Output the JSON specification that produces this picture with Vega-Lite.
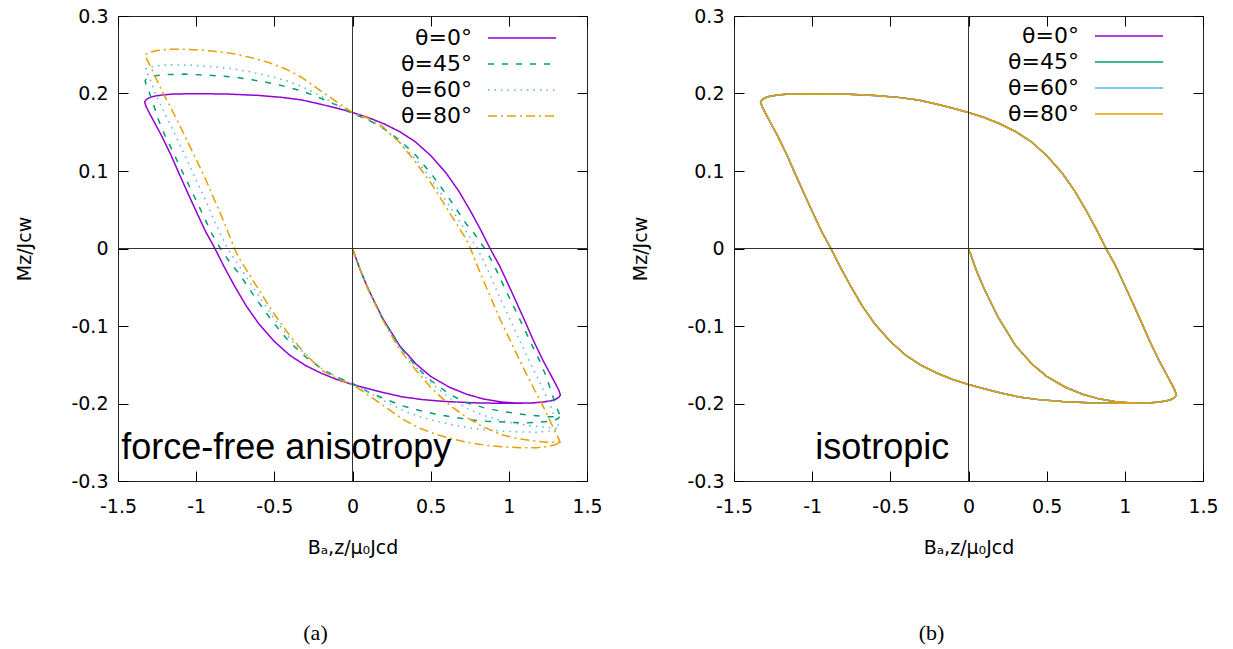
{
"$schema":"https://vega.github.io/schema/vega-lite/v6.json",
"background":"white",
"padding":{"left":15,"top":6,"right":5,"bottom":5},
"datasets":{"aniso":[
{"t":"θ=0°","i":0,"x":0,"y":0},{"t":"θ=0°","i":1,"x":0.05,"y":-0.028},{"t":"θ=0°","i":2,"x":0.1,"y":-0.052},{"t":"θ=0°","i":3,"x":0.19,"y":-0.089},{"t":"θ=0°","i":4,"x":0.3,"y":-0.125},{"t":"θ=0°","i":5,"x":0.406,"y":-0.149},{"t":"θ=0°","i":6,"x":0.5,"y":-0.165},{"t":"θ=0°","i":7,"x":0.62,"y":-0.179},{"t":"θ=0°","i":8,"x":0.73,"y":-0.188},{"t":"θ=0°","i":9,"x":0.834,"y":-0.194},{"t":"θ=0°","i":10,"x":0.95,"y":-0.198},{"t":"θ=0°","i":11,"x":1.05,"y":-0.1995},{"t":"θ=0°","i":12,"x":1.15,"y":-0.1993},{"t":"θ=0°","i":13,"x":1.22,"y":-0.198},{"t":"θ=0°","i":14,"x":1.27,"y":-0.1965},{"t":"θ=0°","i":15,"x":1.3,"y":-0.1945},{"t":"θ=0°","i":16,"x":1.32,"y":-0.192},{"t":"θ=0°","i":17,"x":1.33,"y":-0.189},
{"t":"θ=0°","i":18,"x":1.32,"y":-0.183},{"t":"θ=0°","i":19,"x":1.3,"y":-0.175},{"t":"θ=0°","i":20,"x":1.26,"y":-0.16},{"t":"θ=0°","i":21,"x":1.22,"y":-0.145},{"t":"θ=0°","i":22,"x":1.16,"y":-0.12},{"t":"θ=0°","i":23,"x":1.11,"y":-0.097},{"t":"θ=0°","i":24,"x":1.05,"y":-0.07},{"t":"θ=0°","i":25,"x":1.0,"y":-0.048},{"t":"θ=0°","i":26,"x":0.94,"y":-0.022},{"t":"θ=0°","i":27,"x":0.88,"y":0},{"t":"θ=0°","i":28,"x":0.82,"y":0.024},{"t":"θ=0°","i":29,"x":0.75,"y":0.05},{"t":"θ=0°","i":30,"x":0.68,"y":0.074},{"t":"θ=0°","i":31,"x":0.6,"y":0.097},{"t":"θ=0°","i":32,"x":0.5,"y":0.12},{"t":"θ=0°","i":33,"x":0.4,"y":0.138},{"t":"θ=0°","i":34,"x":0.3,"y":0.151},{"t":"θ=0°","i":35,"x":0.2,"y":0.161},{"t":"θ=0°","i":36,"x":0.1,"y":0.169},{"t":"θ=0°","i":37,"x":0,"y":0.1755},{"t":"θ=0°","i":38,"x":-0.1,"y":0.181},{"t":"θ=0°","i":39,"x":-0.2,"y":0.186},{"t":"θ=0°","i":40,"x":-0.32,"y":0.1915},{"t":"θ=0°","i":41,"x":-0.45,"y":0.195},{"t":"θ=0°","i":42,"x":-0.6,"y":0.1975},{"t":"θ=0°","i":43,"x":-0.8,"y":0.1993},{"t":"θ=0°","i":44,"x":-1.0,"y":0.1998},{"t":"θ=0°","i":45,"x":-1.15,"y":0.1993},{"t":"θ=0°","i":46,"x":-1.22,"y":0.198},{"t":"θ=0°","i":47,"x":-1.27,"y":0.1965},{"t":"θ=0°","i":48,"x":-1.3,"y":0.1945},{"t":"θ=0°","i":49,"x":-1.32,"y":0.192},{"t":"θ=0°","i":50,"x":-1.33,"y":0.189},
{"t":"θ=0°","i":51,"x":-1.32,"y":0.183},{"t":"θ=0°","i":52,"x":-1.3,"y":0.175},{"t":"θ=0°","i":53,"x":-1.26,"y":0.16},{"t":"θ=0°","i":54,"x":-1.22,"y":0.145},{"t":"θ=0°","i":55,"x":-1.16,"y":0.12},{"t":"θ=0°","i":56,"x":-1.11,"y":0.097},{"t":"θ=0°","i":57,"x":-1.05,"y":0.07},{"t":"θ=0°","i":58,"x":-1.0,"y":0.048},{"t":"θ=0°","i":59,"x":-0.94,"y":0.022},{"t":"θ=0°","i":60,"x":-0.88,"y":0},{"t":"θ=0°","i":61,"x":-0.82,"y":-0.024},{"t":"θ=0°","i":62,"x":-0.75,"y":-0.05},{"t":"θ=0°","i":63,"x":-0.68,"y":-0.074},{"t":"θ=0°","i":64,"x":-0.6,"y":-0.097},{"t":"θ=0°","i":65,"x":-0.5,"y":-0.12},{"t":"θ=0°","i":66,"x":-0.4,"y":-0.138},{"t":"θ=0°","i":67,"x":-0.3,"y":-0.151},{"t":"θ=0°","i":68,"x":-0.2,"y":-0.161},{"t":"θ=0°","i":69,"x":-0.1,"y":-0.169},{"t":"θ=0°","i":70,"x":0,"y":-0.1755},{"t":"θ=0°","i":71,"x":0.1,"y":-0.181},{"t":"θ=0°","i":72,"x":0.2,"y":-0.186},{"t":"θ=0°","i":73,"x":0.32,"y":-0.1915},{"t":"θ=0°","i":74,"x":0.45,"y":-0.195},{"t":"θ=0°","i":75,"x":0.6,"y":-0.1975},{"t":"θ=0°","i":76,"x":0.8,"y":-0.1993},{"t":"θ=0°","i":77,"x":1.0,"y":-0.1998},{"t":"θ=0°","i":78,"x":1.15,"y":-0.1993},{"t":"θ=0°","i":79,"x":1.22,"y":-0.198},{"t":"θ=0°","i":80,"x":1.27,"y":-0.1965},{"t":"θ=0°","i":81,"x":1.3,"y":-0.1945},{"t":"θ=0°","i":82,"x":1.32,"y":-0.192},{"t":"θ=0°","i":83,"x":1.33,"y":-0.189},
{"t":"θ=45°","i":0,"x":0,"y":0},{"t":"θ=45°","i":1,"x":0.05,"y":-0.028},{"t":"θ=45°","i":2,"x":0.1,"y":-0.052},{"t":"θ=45°","i":3,"x":0.19,"y":-0.09},{"t":"θ=45°","i":4,"x":0.3,"y":-0.126},{"t":"θ=45°","i":5,"x":0.406,"y":-0.152},{"t":"θ=45°","i":6,"x":0.5,"y":-0.17},{"t":"θ=45°","i":7,"x":0.62,"y":-0.188},{"t":"θ=45°","i":8,"x":0.73,"y":-0.199},{"t":"θ=45°","i":9,"x":0.834,"y":-0.205},{"t":"θ=45°","i":10,"x":0.95,"y":-0.21},{"t":"θ=45°","i":11,"x":1.05,"y":-0.213},{"t":"θ=45°","i":12,"x":1.15,"y":-0.2155},{"t":"θ=45°","i":13,"x":1.25,"y":-0.217},{"t":"θ=45°","i":14,"x":1.3,"y":-0.217},{"t":"θ=45°","i":15,"x":1.327,"y":-0.216},
{"t":"θ=45°","i":16,"x":1.32,"y":-0.212},{"t":"θ=45°","i":17,"x":1.306,"y":-0.205},{"t":"θ=45°","i":18,"x":1.28,"y":-0.19},{"t":"θ=45°","i":19,"x":1.242,"y":-0.1665},{"t":"θ=45°","i":20,"x":1.2,"y":-0.146},{"t":"θ=45°","i":21,"x":1.156,"y":-0.128},{"t":"θ=45°","i":22,"x":1.1,"y":-0.104},{"t":"θ=45°","i":23,"x":1.049,"y":-0.0826},{"t":"θ=45°","i":24,"x":1.0,"y":-0.062},{"t":"θ=45°","i":25,"x":0.941,"y":-0.037},{"t":"θ=45°","i":26,"x":0.9,"y":-0.019},{"t":"θ=45°","i":27,"x":0.845,"y":0},{"t":"θ=45°","i":28,"x":0.78,"y":0.019},{"t":"θ=45°","i":29,"x":0.727,"y":0.032},{"t":"θ=45°","i":30,"x":0.62,"y":0.064},{"t":"θ=45°","i":31,"x":0.513,"y":0.094},{"t":"θ=45°","i":32,"x":0.406,"y":0.12},{"t":"θ=45°","i":33,"x":0.3,"y":0.14},{"t":"θ=45°","i":34,"x":0.19,"y":0.156},{"t":"θ=45°","i":35,"x":0.1,"y":0.166},{"t":"θ=45°","i":36,"x":0,"y":0.174},{"t":"θ=45°","i":37,"x":-0.1,"y":0.185},{"t":"θ=45°","i":38,"x":-0.215,"y":0.1948},{"t":"θ=45°","i":39,"x":-0.32,"y":0.203},{"t":"θ=45°","i":40,"x":-0.429,"y":0.209},{"t":"θ=45°","i":41,"x":-0.537,"y":0.214},{"t":"θ=45°","i":42,"x":-0.644,"y":0.2177},{"t":"θ=45°","i":43,"x":-0.75,"y":0.221},{"t":"θ=45°","i":44,"x":-0.858,"y":0.2228},{"t":"θ=45°","i":45,"x":-0.965,"y":0.224},{"t":"θ=45°","i":46,"x":-1.072,"y":0.225},{"t":"θ=45°","i":47,"x":-1.18,"y":0.2245},{"t":"θ=45°","i":48,"x":-1.265,"y":0.2228},{"t":"θ=45°","i":49,"x":-1.3,"y":0.221},{"t":"θ=45°","i":50,"x":-1.318,"y":0.219},{"t":"θ=45°","i":51,"x":-1.327,"y":0.216},
{"t":"θ=45°","i":52,"x":-1.32,"y":0.212},{"t":"θ=45°","i":53,"x":-1.306,"y":0.205},{"t":"θ=45°","i":54,"x":-1.28,"y":0.19},{"t":"θ=45°","i":55,"x":-1.242,"y":0.1665},{"t":"θ=45°","i":56,"x":-1.2,"y":0.146},{"t":"θ=45°","i":57,"x":-1.156,"y":0.128},{"t":"θ=45°","i":58,"x":-1.1,"y":0.104},{"t":"θ=45°","i":59,"x":-1.049,"y":0.0826},{"t":"θ=45°","i":60,"x":-1.0,"y":0.062},{"t":"θ=45°","i":61,"x":-0.941,"y":0.037},{"t":"θ=45°","i":62,"x":-0.9,"y":0.019},{"t":"θ=45°","i":63,"x":-0.845,"y":0},{"t":"θ=45°","i":64,"x":-0.78,"y":-0.019},{"t":"θ=45°","i":65,"x":-0.727,"y":-0.032},{"t":"θ=45°","i":66,"x":-0.62,"y":-0.064},{"t":"θ=45°","i":67,"x":-0.513,"y":-0.094},{"t":"θ=45°","i":68,"x":-0.406,"y":-0.12},{"t":"θ=45°","i":69,"x":-0.3,"y":-0.14},{"t":"θ=45°","i":70,"x":-0.19,"y":-0.156},{"t":"θ=45°","i":71,"x":-0.1,"y":-0.166},{"t":"θ=45°","i":72,"x":0,"y":-0.174},{"t":"θ=45°","i":73,"x":0.1,"y":-0.185},{"t":"θ=45°","i":74,"x":0.215,"y":-0.1948},{"t":"θ=45°","i":75,"x":0.32,"y":-0.203},{"t":"θ=45°","i":76,"x":0.429,"y":-0.209},{"t":"θ=45°","i":77,"x":0.537,"y":-0.214},{"t":"θ=45°","i":78,"x":0.644,"y":-0.2177},{"t":"θ=45°","i":79,"x":0.75,"y":-0.221},{"t":"θ=45°","i":80,"x":0.858,"y":-0.2228},{"t":"θ=45°","i":81,"x":0.965,"y":-0.224},{"t":"θ=45°","i":82,"x":1.072,"y":-0.225},{"t":"θ=45°","i":83,"x":1.18,"y":-0.2245},{"t":"θ=45°","i":84,"x":1.265,"y":-0.2228},{"t":"θ=45°","i":85,"x":1.3,"y":-0.221},{"t":"θ=45°","i":86,"x":1.318,"y":-0.219},{"t":"θ=45°","i":87,"x":1.327,"y":-0.216},
{"t":"θ=60°","i":0,"x":0,"y":0},{"t":"θ=60°","i":1,"x":0.05,"y":-0.028},{"t":"θ=60°","i":2,"x":0.1,"y":-0.052},{"t":"θ=60°","i":3,"x":0.19,"y":-0.09},{"t":"θ=60°","i":4,"x":0.3,"y":-0.127},{"t":"θ=60°","i":5,"x":0.406,"y":-0.153},{"t":"θ=60°","i":6,"x":0.5,"y":-0.173},{"t":"θ=60°","i":7,"x":0.62,"y":-0.193},{"t":"θ=60°","i":8,"x":0.73,"y":-0.206},{"t":"θ=60°","i":9,"x":0.834,"y":-0.215},{"t":"θ=60°","i":10,"x":0.95,"y":-0.222},{"t":"θ=60°","i":11,"x":1.05,"y":-0.226},{"t":"θ=60°","i":12,"x":1.15,"y":-0.229},{"t":"θ=60°","i":13,"x":1.25,"y":-0.231},{"t":"θ=60°","i":14,"x":1.322,"y":-0.232},
{"t":"θ=60°","i":15,"x":1.316,"y":-0.228},{"t":"θ=60°","i":16,"x":1.29,"y":-0.216},{"t":"θ=60°","i":17,"x":1.263,"y":-0.2008},{"t":"θ=60°","i":18,"x":1.21,"y":-0.178},{"t":"θ=60°","i":19,"x":1.156,"y":-0.1556},{"t":"θ=60°","i":20,"x":1.1,"y":-0.132},{"t":"θ=60°","i":21,"x":1.049,"y":-0.11},{"t":"θ=60°","i":22,"x":1.0,"y":-0.088},{"t":"θ=60°","i":23,"x":0.941,"y":-0.063},{"t":"θ=60°","i":24,"x":0.88,"y":-0.034},{"t":"θ=60°","i":25,"x":0.8,"y":0},{"t":"θ=60°","i":26,"x":0.727,"y":0.022},{"t":"θ=60°","i":27,"x":0.62,"y":0.055},{"t":"θ=60°","i":28,"x":0.513,"y":0.087},{"t":"θ=60°","i":29,"x":0.406,"y":0.115},{"t":"θ=60°","i":30,"x":0.3,"y":0.137},{"t":"θ=60°","i":31,"x":0.19,"y":0.156},{"t":"θ=60°","i":32,"x":0.1,"y":0.166},{"t":"θ=60°","i":33,"x":0,"y":0.175},{"t":"θ=60°","i":34,"x":-0.108,"y":0.186},{"t":"θ=60°","i":35,"x":-0.215,"y":0.198},{"t":"θ=60°","i":36,"x":-0.323,"y":0.209},{"t":"θ=60°","i":37,"x":-0.43,"y":0.217},{"t":"θ=60°","i":38,"x":-0.537,"y":0.2228},{"t":"θ=60°","i":39,"x":-0.644,"y":0.2275},{"t":"θ=60°","i":40,"x":-0.75,"y":0.2315},{"t":"θ=60°","i":41,"x":-0.858,"y":0.234},{"t":"θ=60°","i":42,"x":-0.965,"y":0.2357},{"t":"θ=60°","i":43,"x":-1.07,"y":0.2368},{"t":"θ=60°","i":44,"x":-1.179,"y":0.237},{"t":"θ=60°","i":45,"x":-1.26,"y":0.2355},{"t":"θ=60°","i":46,"x":-1.3,"y":0.234},{"t":"θ=60°","i":47,"x":-1.322,"y":0.232},
{"t":"θ=60°","i":48,"x":-1.316,"y":0.228},{"t":"θ=60°","i":49,"x":-1.29,"y":0.216},{"t":"θ=60°","i":50,"x":-1.263,"y":0.2008},{"t":"θ=60°","i":51,"x":-1.21,"y":0.178},{"t":"θ=60°","i":52,"x":-1.156,"y":0.1556},{"t":"θ=60°","i":53,"x":-1.1,"y":0.132},{"t":"θ=60°","i":54,"x":-1.049,"y":0.11},{"t":"θ=60°","i":55,"x":-1.0,"y":0.088},{"t":"θ=60°","i":56,"x":-0.941,"y":0.063},{"t":"θ=60°","i":57,"x":-0.88,"y":0.034},{"t":"θ=60°","i":58,"x":-0.8,"y":0},{"t":"θ=60°","i":59,"x":-0.727,"y":-0.022},{"t":"θ=60°","i":60,"x":-0.62,"y":-0.055},{"t":"θ=60°","i":61,"x":-0.513,"y":-0.087},{"t":"θ=60°","i":62,"x":-0.406,"y":-0.115},{"t":"θ=60°","i":63,"x":-0.3,"y":-0.137},{"t":"θ=60°","i":64,"x":-0.19,"y":-0.156},{"t":"θ=60°","i":65,"x":-0.1,"y":-0.166},{"t":"θ=60°","i":66,"x":0,"y":-0.175},{"t":"θ=60°","i":67,"x":0.108,"y":-0.186},{"t":"θ=60°","i":68,"x":0.215,"y":-0.198},{"t":"θ=60°","i":69,"x":0.323,"y":-0.209},{"t":"θ=60°","i":70,"x":0.43,"y":-0.217},{"t":"θ=60°","i":71,"x":0.537,"y":-0.2228},{"t":"θ=60°","i":72,"x":0.644,"y":-0.2275},{"t":"θ=60°","i":73,"x":0.75,"y":-0.2315},{"t":"θ=60°","i":74,"x":0.858,"y":-0.234},{"t":"θ=60°","i":75,"x":0.965,"y":-0.2357},{"t":"θ=60°","i":76,"x":1.07,"y":-0.2368},{"t":"θ=60°","i":77,"x":1.179,"y":-0.237},{"t":"θ=60°","i":78,"x":1.26,"y":-0.2355},{"t":"θ=60°","i":79,"x":1.3,"y":-0.234},{"t":"θ=60°","i":80,"x":1.322,"y":-0.232},
{"t":"θ=80°","i":0,"x":0,"y":0},{"t":"θ=80°","i":1,"x":0.05,"y":-0.028},{"t":"θ=80°","i":2,"x":0.1,"y":-0.053},{"t":"θ=80°","i":3,"x":0.19,"y":-0.091},{"t":"θ=80°","i":4,"x":0.3,"y":-0.13},{"t":"θ=80°","i":5,"x":0.406,"y":-0.157},{"t":"θ=80°","i":6,"x":0.5,"y":-0.179},{"t":"θ=80°","i":7,"x":0.62,"y":-0.202},{"t":"θ=80°","i":8,"x":0.73,"y":-0.218},{"t":"θ=80°","i":9,"x":0.834,"y":-0.23},{"t":"θ=80°","i":10,"x":0.95,"y":-0.24},{"t":"θ=80°","i":11,"x":1.05,"y":-0.245},{"t":"θ=80°","i":12,"x":1.15,"y":-0.248},{"t":"θ=80°","i":13,"x":1.25,"y":-0.25},{"t":"θ=80°","i":14,"x":1.327,"y":-0.25},
{"t":"θ=80°","i":15,"x":1.32,"y":-0.246},{"t":"θ=80°","i":16,"x":1.295,"y":-0.236},{"t":"θ=80°","i":17,"x":1.242,"y":-0.213},{"t":"θ=80°","i":18,"x":1.2,"y":-0.196},{"t":"θ=80°","i":19,"x":1.156,"y":-0.179},{"t":"θ=80°","i":20,"x":1.1,"y":-0.157},{"t":"θ=80°","i":21,"x":1.05,"y":-0.136},{"t":"θ=80°","i":22,"x":1.0,"y":-0.115},{"t":"θ=80°","i":23,"x":0.941,"y":-0.09},{"t":"θ=80°","i":24,"x":0.89,"y":-0.066},{"t":"θ=80°","i":25,"x":0.834,"y":-0.04},{"t":"θ=80°","i":26,"x":0.78,"y":-0.013},{"t":"θ=80°","i":27,"x":0.755,"y":0},{"t":"θ=80°","i":28,"x":0.727,"y":0.012},{"t":"θ=80°","i":29,"x":0.62,"y":0.0465},{"t":"θ=80°","i":30,"x":0.513,"y":0.081},{"t":"θ=80°","i":31,"x":0.406,"y":0.111},{"t":"θ=80°","i":32,"x":0.3,"y":0.137},{"t":"θ=80°","i":33,"x":0.19,"y":0.158},{"t":"θ=80°","i":34,"x":0.1,"y":0.168},{"t":"θ=80°","i":35,"x":0,"y":0.1755},{"t":"θ=80°","i":36,"x":-0.172,"y":0.199},{"t":"θ=80°","i":37,"x":-0.323,"y":0.2206},{"t":"θ=80°","i":38,"x":-0.43,"y":0.232},{"t":"θ=80°","i":39,"x":-0.537,"y":0.24},{"t":"θ=80°","i":40,"x":-0.644,"y":0.246},{"t":"θ=80°","i":41,"x":-0.75,"y":0.2508},{"t":"θ=80°","i":42,"x":-0.858,"y":0.254},{"t":"θ=80°","i":43,"x":-0.965,"y":0.256},{"t":"θ=80°","i":44,"x":-1.072,"y":0.257},{"t":"θ=80°","i":45,"x":-1.179,"y":0.257},{"t":"θ=80°","i":46,"x":-1.25,"y":0.2555},{"t":"θ=80°","i":47,"x":-1.3,"y":0.253},{"t":"θ=80°","i":48,"x":-1.327,"y":0.25},
{"t":"θ=80°","i":49,"x":-1.32,"y":0.246},{"t":"θ=80°","i":50,"x":-1.295,"y":0.236},{"t":"θ=80°","i":51,"x":-1.242,"y":0.213},{"t":"θ=80°","i":52,"x":-1.2,"y":0.196},{"t":"θ=80°","i":53,"x":-1.156,"y":0.179},{"t":"θ=80°","i":54,"x":-1.1,"y":0.157},{"t":"θ=80°","i":55,"x":-1.05,"y":0.136},{"t":"θ=80°","i":56,"x":-1.0,"y":0.115},{"t":"θ=80°","i":57,"x":-0.941,"y":0.09},{"t":"θ=80°","i":58,"x":-0.89,"y":0.066},{"t":"θ=80°","i":59,"x":-0.834,"y":0.04},{"t":"θ=80°","i":60,"x":-0.78,"y":0.013},{"t":"θ=80°","i":61,"x":-0.755,"y":0},{"t":"θ=80°","i":62,"x":-0.727,"y":-0.012},{"t":"θ=80°","i":63,"x":-0.62,"y":-0.0465},{"t":"θ=80°","i":64,"x":-0.513,"y":-0.081},{"t":"θ=80°","i":65,"x":-0.406,"y":-0.111},{"t":"θ=80°","i":66,"x":-0.3,"y":-0.137},{"t":"θ=80°","i":67,"x":-0.19,"y":-0.158},{"t":"θ=80°","i":68,"x":-0.1,"y":-0.168},{"t":"θ=80°","i":69,"x":0,"y":-0.1755},{"t":"θ=80°","i":70,"x":0.172,"y":-0.199},{"t":"θ=80°","i":71,"x":0.323,"y":-0.2206},{"t":"θ=80°","i":72,"x":0.43,"y":-0.232},{"t":"θ=80°","i":73,"x":0.537,"y":-0.24},{"t":"θ=80°","i":74,"x":0.644,"y":-0.246},{"t":"θ=80°","i":75,"x":0.75,"y":-0.2508},{"t":"θ=80°","i":76,"x":0.858,"y":-0.254},{"t":"θ=80°","i":77,"x":0.965,"y":-0.256},{"t":"θ=80°","i":78,"x":1.072,"y":-0.257},{"t":"θ=80°","i":79,"x":1.179,"y":-0.257},{"t":"θ=80°","i":80,"x":1.25,"y":-0.2555},{"t":"θ=80°","i":81,"x":1.3,"y":-0.253},{"t":"θ=80°","i":82,"x":1.327,"y":-0.25}
]},
"spacing":147,
"bounds":"flush",
"hconcat":[
{
"width":469,"height":465,
"title":{"text":"(a)","orient":"bottom","font":"Liberation Serif","fontSize":22,"fontWeight":"normal","color":"#000","offset":66,"dx":-37},
"layer":[
{"data":{"name":"aniso"},"mark":{"type":"line","strokeWidth":1.5},
"encoding":{
"x":{"field":"x","type":"quantitative","scale":{"domain":[-1.5,1.5],"nice":false,"zero":false},"axis":{"orient":"bottom","values":[-1.5,-1,-0.5,0,0.5,1,1.5],"format":"~g","labelExpr":"replace(datum.label,'−','-')","title":"Bₐ,ᴢ/μ₀Jᴄd","titlePadding":22}},
"y":{"field":"y","type":"quantitative","scale":{"domain":[-0.3,0.3],"nice":false,"zero":false},"axis":{"orient":"left","values":[-0.3,-0.2,-0.1,0,0.1,0.2,0.3],"format":"~g","labelExpr":"replace(datum.label,'−','-')","title":"Mᴢ/Jᴄw","titlePadding":36}},
"order":{"field":"i","type":"quantitative"},
"color":{"field":"t","type":"nominal","scale":{"domain":["θ=0°","θ=45°","θ=60°","θ=80°"],"range":["#9400d3","#009e73","#56b4e9","#e69f00"]},
"legend":{"orient":"none","legendX":393,"legendY":11,"title":null,"padding":0,"symbolType":"M-4,0H4","symbolSize":289,"symbolStrokeWidth":1.5,"labelAlign":"right","labelOffset":-61,"labelFontSize":22,"labelFont":"DejaVu Sans","labelColor":"#000","rowPadding":4}},
"strokeDash":{"field":"t","type":"nominal","scale":{"domain":["θ=0°","θ=45°","θ=60°","θ=80°"],"range":[[1,0],[6,8],[1.5,5],[9,4,2,4]]}}
}},
{"data":{"values":[{}]},"mark":{"type":"rule","color":"#333","strokeWidth":1},"encoding":{"x":{"datum":0,"type":"quantitative","axis":{"orient":"top","labels":false,"title":null,"values":[-1.5,-1,-0.5,0,0.5,1,1.5]}}}},
{"data":{"values":[{}]},"mark":{"type":"rule","color":"#333","strokeWidth":1},"encoding":{"y":{"datum":0,"type":"quantitative","axis":{"orient":"right","labels":false,"title":null,"values":[-0.3,-0.2,-0.1,0,0.1,0.2,0.3]}}}},
{"data":{"values":[{}]},"mark":{"type":"text","align":"left","baseline":"alphabetic","font":"Liberation Sans","fontSize":36,"color":"#000"},"encoding":{"x":{"datum":-1.48,"type":"quantitative","axis":null},"y":{"datum":-0.272,"type":"quantitative","axis":null},"text":{"value":"force-free anisotropy"}}}
],
"resolve":{"axis":{"x":"independent","y":"independent"}}
},
{
"width":469,"height":465,
"title":{"text":"(b)","orient":"bottom","font":"Liberation Serif","fontSize":22,"fontWeight":"normal","color":"#000","offset":66,"dx":-37},
"layer":[
{"data":{"name":"aniso"},"transform":[{"filter":"datum.t=='θ=0°'"}],"mark":{"type":"line","strokeWidth":1.5},
"encoding":{
"x":{"field":"x","type":"quantitative","scale":{"domain":[-1.5,1.5],"nice":false,"zero":false},"axis":{"orient":"bottom","values":[-1.5,-1,-0.5,0,0.5,1,1.5],"format":"~g","labelExpr":"replace(datum.label,'−','-')","title":"Bₐ,ᴢ/μ₀Jᴄd","titlePadding":22}},
"y":{"field":"y","type":"quantitative","scale":{"domain":[-0.3,0.3],"nice":false,"zero":false},"axis":{"orient":"left","values":[-0.3,-0.2,-0.1,0,0.1,0.2,0.3],"format":"~g","labelExpr":"replace(datum.label,'−','-')","title":"Mᴢ/Jᴄw","titlePadding":36}},
"order":{"field":"i","type":"quantitative"},
"color":{"datum":"θ=0°","type":"nominal","scale":{"domain":["θ=0°","θ=45°","θ=60°","θ=80°"],"range":["#9400d3","#009e73","#56b4e9","#e69f00"]},
"legend":{"orient":"none","legendX":384,"legendY":9,"title":null,"padding":0,"symbolType":"M-4,0H4","symbolSize":289,"symbolStrokeWidth":1.5,"labelAlign":"right","labelOffset":-61,"labelFontSize":22,"labelFont":"DejaVu Sans","labelColor":"#000","rowPadding":4}}
}},
{"data":{"name":"aniso"},"transform":[{"filter":"datum.t=='θ=0°'"}],"mark":{"type":"line","strokeWidth":1.5},
"encoding":{"x":{"field":"x","type":"quantitative","axis":null},"y":{"field":"y","type":"quantitative","axis":null},"order":{"field":"i","type":"quantitative"},"color":{"datum":"θ=45°","type":"nominal"}}},
{"data":{"name":"aniso"},"transform":[{"filter":"datum.t=='θ=0°'"}],"mark":{"type":"line","strokeWidth":1.5},
"encoding":{"x":{"field":"x","type":"quantitative","axis":null},"y":{"field":"y","type":"quantitative","axis":null},"order":{"field":"i","type":"quantitative"},"color":{"datum":"θ=60°","type":"nominal"}}},
{"data":{"name":"aniso"},"transform":[{"filter":"datum.t=='θ=0°'"}],"mark":{"type":"line","strokeWidth":1.5},
"encoding":{"x":{"field":"x","type":"quantitative","axis":null},"y":{"field":"y","type":"quantitative","axis":null},"order":{"field":"i","type":"quantitative"},"color":{"datum":"θ=80°","type":"nominal"}}},
{"data":{"values":[{}]},"mark":{"type":"rule","color":"#333","strokeWidth":1},"encoding":{"x":{"datum":0,"type":"quantitative","axis":{"orient":"top","labels":false,"title":null,"values":[-1.5,-1,-0.5,0,0.5,1,1.5]}}}},
{"data":{"values":[{}]},"mark":{"type":"rule","color":"#333","strokeWidth":1},"encoding":{"y":{"datum":0,"type":"quantitative","axis":{"orient":"right","labels":false,"title":null,"values":[-0.3,-0.2,-0.1,0,0.1,0.2,0.3]}}}},
{"data":{"values":[{}]},"mark":{"type":"text","align":"left","baseline":"alphabetic","font":"Liberation Sans","fontSize":36,"color":"#000"},"encoding":{"x":{"datum":-0.98,"type":"quantitative","axis":null},"y":{"datum":-0.272,"type":"quantitative","axis":null},"text":{"value":"isotropic"}}}
],
"resolve":{"axis":{"x":"independent","y":"independent"}}
}
],
"resolve":{"scale":{"color":"independent","strokeDash":"independent"},"legend":{"color":"independent","strokeDash":"independent"}},
"config":{
"view":{"stroke":"#222","strokeWidth":1},
"axis":{"domain":false,"grid":false,"ticks":true,"tickSize":-10,"tickColor":"#000","tickWidth":1,"labelFont":"DejaVu Sans","labelFontSize":19,"labelColor":"#000","labelFlush":false,"labelOverlap":false,"titleFont":"DejaVu Sans","titleFontSize":19,"titleFontWeight":"normal","titleColor":"#000"},
"axisX":{"labelPadding":26},
"axisY":{"labelPadding":20}
}
}
